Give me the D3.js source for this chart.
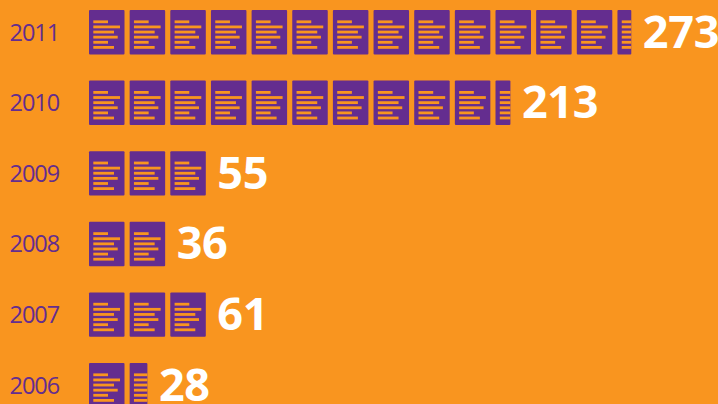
<!DOCTYPE html>
<html>
<head>
<meta charset="utf-8">
<script src="https://cdn.jsdelivr.net/npm/d3@7"></script>
<style>
html, body { margin: 0; padding: 0; background: #f9951f; overflow: hidden; }
</style>
</head>
<body>
<div id="chart"></div>
<script>
var years = ["2011", "2010", "2009", "2008", "2007", "2006"];
var articles = [273, 213, 55, 36, 61, 28];
// page icons per year as drawn, the last one can be cut off
var iconCounts = [13.39, 10.42, 3, 2, 3, 1.5];

var width = 718, height = 404;
var orange = "#f9951f", purple = "#642d8f";

var svg = d3.select("#chart").append("svg").attr("width", width).attr("height", height)
    .style("display", "block");

svg.append("rect").attr("width", width).attr("height", height).attr("fill", orange);

var iconW = 35.5, iconH = 44.4;
var x = d3.scaleLinear().domain([0, 1]).range([89, 129.65]);
var y = d3.scaleBand().domain(years).range([10, 433.6]);

// lengths of the text lines inside a full page icon, in px
var lineLens = [14.7, 26.7, 20.7, 24.4, 14.7, 20.7];
var lineY = d3.scaleLinear().domain([0, 5]).range([10.4, 36]);

function icons(n) {
    var out = [];
    for (var i = 0; i < Math.floor(n); i++) out.push({ i: i, w: iconW });
    if (n % 1) out.push({ i: Math.floor(n), w: (n % 1) * iconW });
    return out;
}

var rows = svg.selectAll("g.row").data(years).enter().append("g")
    .attr("class", "row")
    .attr("transform", function (d) { return "translate(0," + y(d) + ")"; });

rows.append("text")
    .attr("x", 9.5).attr("y", 30.5)
    .attr("fill", purple)
    .style("font-family", "'Open Sans'")
    .style("font-weight", 400)
    .style("font-size", "23.5px")
    .style("letter-spacing", "-1px")
    .text(function (d) { return d; });

rows.each(function (d, r) {
    var row = d3.select(this);
    var list = icons(iconCounts[r]);
    var page = row.selectAll("g.page").data(list).enter().append("g")
        .attr("class", "page")
        .attr("transform", function (c) { return "translate(" + x(c.i) + ",0)"; });
    page.append("rect")
        .attr("width", function (c) { return c.w; })
        .attr("height", iconH).attr("rx", 1)
        .attr("fill", purple);
    page.each(function (c) {
        var cut = c.w < iconW;
        d3.select(this).selectAll("rect.ln").data(lineLens).enter().append("rect")
            .attr("class", "ln")
            .attr("x", 4.3)
            .attr("y", function (l, k) { return lineY(k); })
            .attr("width", function (l) { return cut ? c.w - 4.3 : l; })
            .attr("height", 2.8)
            .attr("fill", orange);
    });
    var last = list[list.length - 1];
    row.append("text")
        .attr("x", x(last.i) + last.w + 11.5).attr("y", 37.5)
        .attr("fill", "#fff")
        .style("font-family", "'Open Sans'")
        .style("font-weight", 700)
        .style("font-size", "45px")
        .style("letter-spacing", "-0.3px")
        .text(articles[r]);
});
</script>
</body>
</html>
